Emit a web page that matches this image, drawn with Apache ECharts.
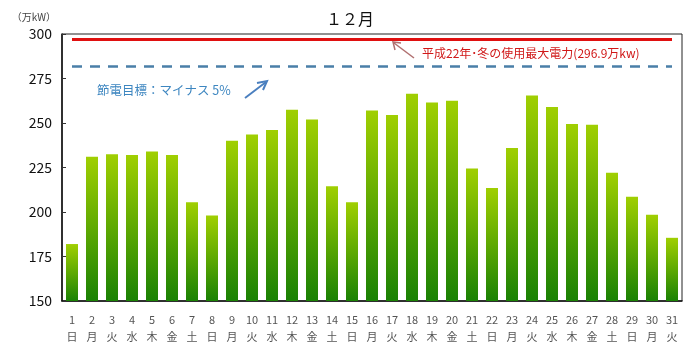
<!DOCTYPE html>
<html>
<head>
<meta charset="utf-8">
<script src="https://cdn.jsdelivr.net/npm/echarts@6/dist/echarts.min.js"></script>
<style>
  html, body { margin: 0; padding: 0; background: #fff; }
  #chart { width: 700px; height: 352px; }
</style>
</head>
<body>
<div id="chart"></div>
<script>
// 12月 daily peak demand (万kW)
const days = ["1","2","3","4","5","6","7","8","9","10","11","12","13","14","15","16","17","18","19","20","21","22","23","24","25","26","27","28","29","30","31"];
const weekdays = ["日","月","火","水","木","金","土","日","月","火","水","木","金","土","日","月","火","水","木","金","土","日","月","火","水","木","金","土","日","月","火"];
const peakDemand = [182, 231, 232.5, 232, 234, 232, 205.5, 198, 240, 243.5, 246, 257.5, 252, 214.5, 205.5, 257, 254.5, 266.5, 261.5, 262.5, 224.5, 213.5, 236, 265.5, 259, 249.5, 249, 222, 208.5, 198.5, 185.5];
const yTicks = [150, 175, 200, 225, 250, 275, 300];
const maxLast = 296.9;
const savingTarget = 282.1; // maxLast * 0.95

const font = '"Noto Sans CJK JP", "Noto Sans", sans-serif';
const chart = echarts.init(document.getElementById("chart"));

const categories = days.map((d, i) => d + "\n" + weekdays[i]);

chart.setOption({
  animation: false,
  textStyle: { fontFamily: font },
  title: {
    text: "１２月",
    left: "center",
    top: 6,
    textStyle: { fontSize: 16, fontWeight: "normal", color: "#111", fontFamily: font },
  },
  grid: { left: 62, right: 18, top: 34, bottom: 51, show: true, borderColor: "#222", borderWidth: 1 },
  xAxis: {
    type: "category",
    data: categories,
    axisLine: { lineStyle: { color: "#111", width: 1.5 } },
    axisTick: { inside: true, length: 3, lineStyle: { color: "#333" } },
    axisLabel: { color: "#555", fontSize: 11, lineHeight: 17, margin: 10, interval: 0, fontFamily: font },
  },
  yAxis: {
    type: "value",
    min: yTicks[0],
    max: yTicks[yTicks.length - 1],
    interval: 25,
    name: "（万kW）",
    nameLocation: "end",
    nameGap: 12,
    nameTextStyle: { color: "#444", fontSize: 10, align: "right", padding: [0, 6, 0, 0] },
    axisLine: { show: true, lineStyle: { color: "#111", width: 1.5 } },
    axisTick: { show: true, inside: true, length: 4, lineStyle: { color: "#333" } },
    axisLabel: { color: "#111", fontSize: 14, margin: 10, fontFamily: font },
    splitLine: { show: false },
  },
  series: [
    {
      type: "bar",
      data: peakDemand,
      barWidth: 12,
      itemStyle: {
        color: new echarts.graphic.LinearGradient(0, 0, 0, 1, [
          { offset: 0, color: "#a0cf02" },
          { offset: 0.5, color: "#5ea902" },
          { offset: 1, color: "#1a8104" },
        ]),
      },
      markLine: {
        silent: true,
        symbol: "none",
        label: { show: false },
        data: [
          [
            { coord: [0, maxLast], lineStyle: { color: "#e01010", width: 3, type: "solid" } },
            { coord: [30, maxLast] },
          ],
          [
            { coord: [0, savingTarget], lineStyle: { color: "#4a7fa8", width: 2.5, type: [10, 8] } },
            { coord: [29.6, savingTarget] },
          ],
        ],
      },
    },
  ],
  graphic: [
    {
      type: "text",
      left: 97,
      top: 84,
      style: { text: "節電目標：マイナス 5%", fill: "#3d86c0", fontSize: 12.5, fontFamily: font },
    },
    {
      type: "line",
      shape: { x1: 245, y1: 98, x2: 266, y2: 82 },
      style: { stroke: "#4a7fbf", lineWidth: 2 },
    },
    {
      type: "polyline",
      shape: { points: [[257, 83], [267, 81], [263, 90]] },
      style: { stroke: "#4a7fbf", lineWidth: 2, fill: null },
    },
    {
      type: "text",
      left: 422,
      top: 47,
      style: { text: "平成22年･冬の使用最大電力(296.9万kw)", fill: "#d01818", fontSize: 12, fontFamily: font },
    },
    {
      type: "line",
      shape: { x1: 414, y1: 58, x2: 394, y2: 43 },
      style: { stroke: "#b07070", lineWidth: 1.5 },
    },
    {
      type: "polyline",
      shape: { points: [[395, 50], [393, 42], [401, 43]] },
      style: { stroke: "#b07070", lineWidth: 1.5, fill: null },
    },
  ],
});
</script>
</body>
</html>
